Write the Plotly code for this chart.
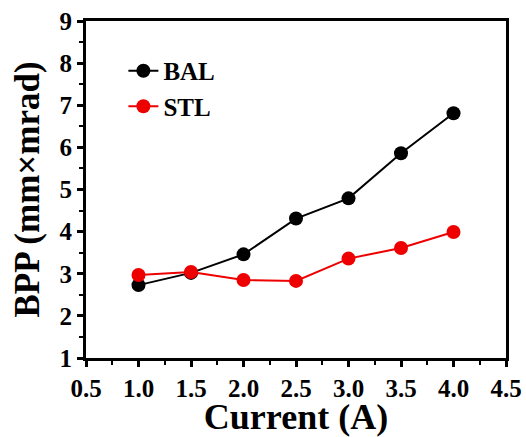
import plotly.graph_objects as go

current = [1.0, 1.5, 2.0, 2.5, 3.0, 3.5, 4.0]
bal = [2.73, 3.02, 3.46, 4.31, 4.79, 5.86, 6.81]
stl = [2.97, 3.04, 2.85, 2.83, 3.36, 3.61, 3.99]

font_family = "Liberation Serif"

fig = go.Figure()
fig.add_trace(go.Scatter(x=current, y=bal, mode="lines+markers", name="BAL",
                         line=dict(color="black", width=2),
                         marker=dict(color="black", size=14)))
fig.add_trace(go.Scatter(x=current, y=stl, mode="lines+markers", name="STL",
                         line=dict(color="#ee0000", width=2),
                         marker=dict(color="#ee0000", size=14)))

axis_common = dict(
    showline=True, linecolor="black", linewidth=3, mirror=True,
    ticks="outside", tickwidth=3, ticklen=6, tickcolor="black",
    showgrid=False, zeroline=False, automargin=False,
    tickfont=dict(family=font_family, size=25, color="black", weight="bold"),
)

fig.update_xaxes(range=[0.5, 4.5], dtick=0.5, tickformat=".1f",
                 title=dict(text="<b>Current (A)</b>", font=dict(family=font_family, size=36, color="black"), standoff=5),
                 minor=dict(ticks="outside", ticklen=4, tickwidth=2, tickcolor="black", dtick=0.25),
                 **axis_common)
fig.update_yaxes(range=[1, 9], dtick=1,
                 title=dict(text="<b>BPP (mm×mrad)</b>", font=dict(family=font_family, size=35, color="black"), standoff=10),
                 minor=dict(ticks="outside", ticklen=4, tickwidth=2, tickcolor="black", dtick=0.5),
                 **axis_common)

fig.update_layout(
    width=526, height=437,
    margin=dict(l=86, r=20, t=21, b=79),
    plot_bgcolor="white", paper_bgcolor="white",
    showlegend=True,
    legend=dict(x=0.089, y=0.92, xanchor="left", yanchor="top",
                font=dict(family=font_family, size=25, color="black", weight="bold"),
                bgcolor="rgba(0,0,0,0)", itemwidth=30, tracegroupgap=0),
)

fig.write_html("out.html", config={"displayModeBar": False},
               post_script="document.body.style.margin='0';document.body.style.overflow='hidden';")
